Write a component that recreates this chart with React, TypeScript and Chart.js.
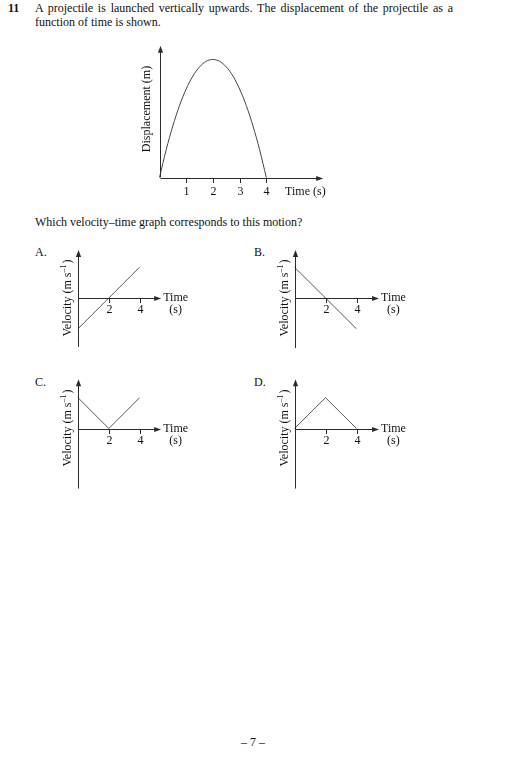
import React, { useEffect, useRef } from "react";
import { Chart, registerables } from "chart.js";

Chart.register(...registerables);

const FONT = '"Liberation Serif", "Times New Roman", serif';
const AXIS_COLOR = "#2a2a2a";
const LINE_COLOR = "#444444";
const TEXT_COLOR = "#111111";

// ---------- data ----------
const displacementTimes = [0, 0.25, 0.5, 0.75, 1, 1.25, 1.5, 1.75, 2, 2.25, 2.5, 2.75, 3, 3.25, 3.5, 3.75, 4];
const displacementValues = [0, 0.94, 1.75, 2.44, 3.0, 3.44, 3.75, 3.94, 4.0, 3.94, 3.75, 3.44, 3.0, 2.44, 1.75, 0.94, 0];
const displacementTicks = [1, 2, 3, 4];

const velocityTicks = [2, 4];
const timesA = [0, 2, 4];
const velocityA = [-2, 0, 2];
const timesB = [0, 2, 4];
const velocityB = [2, 0, -2];
const timesC = [0, 2, 4];
const velocityC = [2, 0, 2];
const timesD = [0, 2, 4];
const velocityD = [0, 2, 0];

type Spec = {
  left: number; top: number; width: number; height: number;
  ox: number; oy: number; ux: number; uy: number;
  xMax: number; yMin: number; yMax: number;
  times: number[]; values: number[]; ticks: number[];
  smooth: boolean;
  kind: "disp" | "vel";
  titleX: number; titleY: number;
  labelOffset: number;
};

const mainSpec: Spec = {
  left: 100, top: 35, width: 250, height: 172,
  ox: 159.5, oy: 177.5, ux: 26.7, uy: 29.5,
  xMax: 6.13, yMin: 0, yMax: 4.47,
  times: displacementTimes, values: displacementValues, ticks: displacementTicks,
  smooth: true, kind: "disp", titleX: 147, titleY: 109, labelOffset: 13,
};

const panelA: Spec = {
  left: 55, top: 240, width: 160, height: 115,
  ox: 78, oy: 298, ux: 15.4, uy: 15.4,
  xMax: 5.4, yMin: -3.18, yMax: 3.12,
  times: timesA, values: velocityA, ticks: velocityTicks,
  smooth: false, kind: "vel", titleX: 68, titleY: 298, labelOffset: 11,
};
const panelB: Spec = {
  left: 270, top: 240, width: 160, height: 115,
  ox: 294.5, oy: 298, ux: 15.5, uy: 15.4,
  xMax: 5.45, yMin: -3.25, yMax: 3.12,
  times: timesB, values: velocityB, ticks: velocityTicks,
  smooth: false, kind: "vel", titleX: 285, titleY: 298, labelOffset: 11,
};
const panelC: Spec = {
  left: 55, top: 370, width: 160, height: 125,
  ox: 78, oy: 428.5, ux: 15.4, uy: 15.4,
  xMax: 5.4, yMin: -3.9, yMax: 3.2,
  times: timesC, values: velocityC, ticks: velocityTicks,
  smooth: false, kind: "vel", titleX: 68, titleY: 428, labelOffset: 11,
};
const panelD: Spec = {
  left: 270, top: 370, width: 160, height: 125,
  ox: 294.5, oy: 428.5, ux: 15.5, uy: 15.4,
  xMax: 5.45, yMin: -3.9, yMax: 3.2,
  times: timesD, values: velocityD, ticks: velocityTicks,
  smooth: false, kind: "vel", titleX: 285, titleY: 428, labelOffset: 11,
};

function makeAxesPlugin(spec: Spec) {
  return {
    id: "physAxes",
    afterDraw(chart: any) {
      const ctx: CanvasRenderingContext2D = chart.ctx;
      const xs = chart.scales.x;
      const ys = chart.scales.y;
      const x0 = Math.round(xs.getPixelForValue(0)) + 0.5;
      const y0 = Math.round(ys.getPixelForValue(0)) + 0.5;
      const xEnd = xs.getPixelForValue(spec.xMax);
      const yTop = ys.getPixelForValue(spec.yMax);
      const yBot = ys.getPixelForValue(spec.yMin);
      const ah = 7;
      const aw = 2.6;
      ctx.save();
      ctx.strokeStyle = AXIS_COLOR;
      ctx.fillStyle = AXIS_COLOR;
      ctx.lineWidth = 1;
      // x axis
      ctx.beginPath();
      ctx.moveTo(x0, y0);
      ctx.lineTo(xEnd - ah + 1, y0);
      ctx.stroke();
      ctx.beginPath();
      ctx.moveTo(xEnd, y0);
      ctx.lineTo(xEnd - ah, y0 - aw);
      ctx.lineTo(xEnd - ah, y0 + aw);
      ctx.closePath();
      ctx.fill();
      // y axis
      ctx.beginPath();
      ctx.moveTo(x0, yBot);
      ctx.lineTo(x0, yTop + ah - 1);
      ctx.stroke();
      ctx.beginPath();
      ctx.moveTo(x0, yTop);
      ctx.lineTo(x0 - aw, yTop + ah);
      ctx.lineTo(x0 + aw, yTop + ah);
      ctx.closePath();
      ctx.fill();
      // ticks
      const tickVals: number[] =
        xs.ticks && xs.ticks.length ? xs.ticks.map((t: any) => t.value) : spec.ticks;
      ctx.fillStyle = TEXT_COLOR;
      ctx.font = `12px ${FONT}`;
      ctx.textAlign = "center";
      ctx.textBaseline = "middle";
      tickVals.forEach((v) => {
        const px = Math.round(xs.getPixelForValue(v)) + 0.5;
        ctx.beginPath();
        ctx.moveTo(px, y0);
        ctx.lineTo(px, y0 + 4.5);
        ctx.stroke();
        ctx.fillText(String(v), px, y0 + spec.labelOffset);
      });
      // x title
      if (spec.kind === "disp") {
        ctx.textAlign = "right";
        ctx.fillText("Time (s)", xEnd + 2.5, y0 + spec.labelOffset);
      } else {
        ctx.textAlign = "left";
        const w = ctx.measureText("Time").width;
        ctx.fillText("Time", xEnd + 2, y0 - 0.5);
        ctx.textAlign = "center";
        ctx.fillText("(s)", xEnd + 2 + w / 2, y0 + 11);
      }
      // y title
      const tx = spec.titleX - spec.left;
      const ty = spec.titleY - spec.top;
      ctx.translate(tx, ty);
      ctx.rotate(-Math.PI / 2);
      ctx.textAlign = "left";
      ctx.textBaseline = "middle";
      if (spec.kind === "disp") {
        ctx.font = `12px ${FONT}`;
        const t = "Displacement (m)";
        const w = ctx.measureText(t).width;
        ctx.fillText(t, -w / 2, 0);
      } else {
        const a = "Velocity (m s";
        const s = "\u20131";
        const b = ")";
        ctx.font = `12px ${FONT}`;
        const wa = ctx.measureText(a).width;
        const wb = ctx.measureText(b).width;
        ctx.font = `8px ${FONT}`;
        const ws = ctx.measureText(s).width;
        const total = wa + ws + wb + 1;
        let x = -total / 2;
        ctx.font = `12px ${FONT}`;
        ctx.fillText(a, x, 0);
        x += wa;
        ctx.font = `8px ${FONT}`;
        ctx.fillText(s, x, -4);
        x += ws + 1;
        ctx.font = `12px ${FONT}`;
        ctx.fillText(b, x, 0);
      }
      ctx.restore();
    },
  };
}

function PhysChart({ spec }: { spec: Spec }) {
  const ref = useRef<HTMLCanvasElement | null>(null);
  useEffect(() => {
    const canvas = ref.current;
    if (!canvas) return;
    const areaLeft = spec.ox;
    const areaRight = spec.ox + spec.xMax * spec.ux;
    const areaTop = spec.oy - spec.yMax * spec.uy;
    const areaBottom = spec.oy - spec.yMin * spec.uy;
    const padding = {
      left: areaLeft - spec.left,
      right: spec.left + spec.width - areaRight,
      top: areaTop - spec.top,
      bottom: spec.top + spec.height - areaBottom,
    };
    const ticks = spec.ticks;
    const chart = new Chart(canvas, {
      type: "line",
      data: {
        datasets: [
          {
            data: spec.times.map((t, i) => ({ x: t, y: spec.values[i] })),
            borderColor: LINE_COLOR,
            borderWidth: spec.smooth ? 1 : 0.9,
            pointRadius: 0,
            fill: false,
            tension: spec.smooth ? 0.4 : 0,
            cubicInterpolationMode: spec.smooth ? "monotone" : "default",
            clip: 8,
          } as any,
        ],
      },
      options: {
        responsive: false,
        maintainAspectRatio: false,
        animation: false,
        events: [],
        layout: { padding },
        plugins: {
          legend: { display: false },
          tooltip: { enabled: false },
          title: { display: false },
        },
        scales: {
          x: {
            type: "linear",
            display: false,
            min: 0,
            max: spec.xMax,
            afterBuildTicks: (scale: any) => {
              scale.ticks = ticks.map((v) => ({ value: v }));
            },
          },
          y: {
            type: "linear",
            display: false,
            min: spec.yMin,
            max: spec.yMax,
          },
        },
      },
      plugins: [makeAxesPlugin(spec) as any],
    });
    return () => chart.destroy();
  }, [spec]);
  return (
    <canvas
      ref={ref}
      width={spec.width}
      height={spec.height}
      style={{
        position: "absolute",
        left: spec.left,
        top: spec.top,
        width: spec.width,
        height: spec.height,
        display: "block",
      }}
    />
  );
}

const textStyle: React.CSSProperties = {
  position: "absolute",
  fontFamily: FONT,
  fontSize: 12,
  lineHeight: "14px",
  color: TEXT_COLOR,
  margin: 0,
};

export default function App() {
  return (
    <div
      style={{
        position: "absolute",
        left: 0,
        top: 0,
        width: 530,
        height: 776,
        background: "#ffffff",
        overflow: "hidden",
      }}
    >
      <div style={{ ...textStyle, left: 8, top: 1, fontWeight: "bold" }}>11</div>
      <div
        style={{
          ...textStyle,
          left: 35,
          top: 1,
          width: 418,
          textAlign: "justify",
          textAlignLast: "justify",
        }}
      >
        A projectile is launched vertically upwards. The displacement of the projectile as a
      </div>
      <div style={{ ...textStyle, left: 35, top: 15 }}>function of time is shown.</div>

      <PhysChart spec={mainSpec} />

      <div style={{ ...textStyle, left: 35, top: 215 }}>
        Which velocity–time graph corresponds to this motion?
      </div>

      <div style={{ ...textStyle, left: 35, top: 245 }}>A.</div>
      <div style={{ ...textStyle, left: 254, top: 245 }}>B.</div>
      <div style={{ ...textStyle, left: 35, top: 375 }}>C.</div>
      <div style={{ ...textStyle, left: 254, top: 375 }}>D.</div>

      <PhysChart spec={panelA} />
      <PhysChart spec={panelB} />
      <PhysChart spec={panelC} />
      <PhysChart spec={panelD} />

      <div style={{ ...textStyle, left: 0, width: 506, top: 735, textAlign: "center" }}>
        – 7 –
      </div>
    </div>
  );
}
